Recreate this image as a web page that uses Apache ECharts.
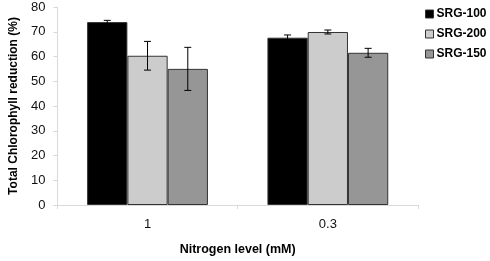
<!DOCTYPE html>
<html><head><meta charset="utf-8">
<script src="https://cdn.jsdelivr.net/npm/echarts@6/dist/echarts.min.js"></script>
<style>html,body{margin:0;padding:0;background:#fff}#c{width:490px;height:261px}</style>
</head><body><div id="c"></div>
<script>
var categories = ['1', '0.3'];
var seriesNames = ['SRG-100', 'SRG-200', 'SRG-150'];
var srg100 = [73.9, 67.6];
var srg200 = [60.3, 69.9];
var srg150 = [55.0, 61.5];
var err100 = [0.7, 1.1];
var err200 = [5.8, 0.8];
var err150 = [8.7, 1.8];
var yTicks = [0, 10, 20, 30, 40, 50, 60, 70, 80];

var colors = ['#000000', '#cccccc', '#969696'];
var values = [srg100, srg200, srg150];
var errs = [err100, err200, err150];
var font = 'Arial, "Liberation Sans", sans-serif';

var series = [];
seriesNames.forEach(function (n, i) {
  series.push({
    name: n, type: 'bar', data: values[i],
    barGap: '0%', barCategoryGap: '33%',
    itemStyle: { color: colors[i], borderColor: '#333333', borderWidth: 1 },
    emphasis: { disabled: true }
  });
});
seriesNames.forEach(function (n, i) {
  var data = values[i].map(function (v, k) { return [k, v, errs[i][k]]; });
  series.push({
    type: 'custom', silent: true, z: 10,
    data: data,
    renderItem: function (params, api) {
      var k = api.value(0), v = api.value(1), e = api.value(2);
      var catW = api.size([1, 0])[0];
      var bw = catW * (1 - 0.33) / 3;
      var off = (i - 1) * bw;
      var hi = api.coord([k, v + e]);
      var lo = api.coord([k, v - e]);
      var x = hi[0] + off;
      var cw = 3.5;
      var st = { stroke: '#000', lineWidth: 1, fill: null };
      return { type: 'group', children: [
        { type: 'line', shape: { x1: x, y1: hi[1], x2: x, y2: lo[1] }, style: st },
        { type: 'line', shape: { x1: x - cw, y1: hi[1], x2: x + cw, y2: hi[1] }, style: st },
        { type: 'line', shape: { x1: x - cw, y1: lo[1], x2: x + cw, y2: lo[1] }, style: st }
      ]};
    }
  });
});

var chart = echarts.init(document.getElementById('c'), null, { renderer: 'canvas' });
chart.setOption({
  animation: false,
  backgroundColor: '#ffffff',
  grid: { left: 48, right: 72, top: 7, bottom: 52 },
  legend: {
    orient: 'vertical', left: 420, top: 3, itemGap: 8,
    itemWidth: 8, itemHeight: 8, icon: 'rect',
    data: seriesNames.map(function (n, i) {
      return { name: n, itemStyle: { color: colors[i], borderColor: '#333', borderWidth: 1 } };
    }),
    textStyle: { fontFamily: font, fontSize: 12, fontWeight: 'bold', color: '#000', padding: [0, 0, 0, -2] }
  },
  xAxis: {
    type: 'category', data: categories,
    name: 'Nitrogen level (mM)', nameLocation: 'middle', nameGap: 38,
    nameTextStyle: { fontFamily: font, fontSize: 12.5, fontWeight: 'bold', color: '#000' },
    axisLine: { lineStyle: { color: '#d9d9d9' } },
    axisTick: { show: true, length: 4, lineStyle: { color: '#d9d9d9' } },
    axisLabel: { fontFamily: font, fontSize: 13, color: '#111', margin: 13 }
  },
  yAxis: {
    type: 'value', min: 0, max: 80, interval: 10,
    name: 'Total Chlorophyll reduction (%)', nameLocation: 'middle', nameGap: 34,
    nameTextStyle: { fontFamily: font, fontSize: 12, fontWeight: 'bold', color: '#000' },
    axisLine: { show: true, lineStyle: { color: '#d9d9d9' } },
    axisTick: { show: true, length: 4, lineStyle: { color: '#d9d9d9' } },
    splitLine: { show: false },
    axisLabel: { fontFamily: font, fontSize: 13, color: '#111', margin: 12,
      formatter: function (v) { return yTicks.indexOf(v) >= 0 ? String(v) : ''; } }
  },
  series: series
});
</script></body></html>
